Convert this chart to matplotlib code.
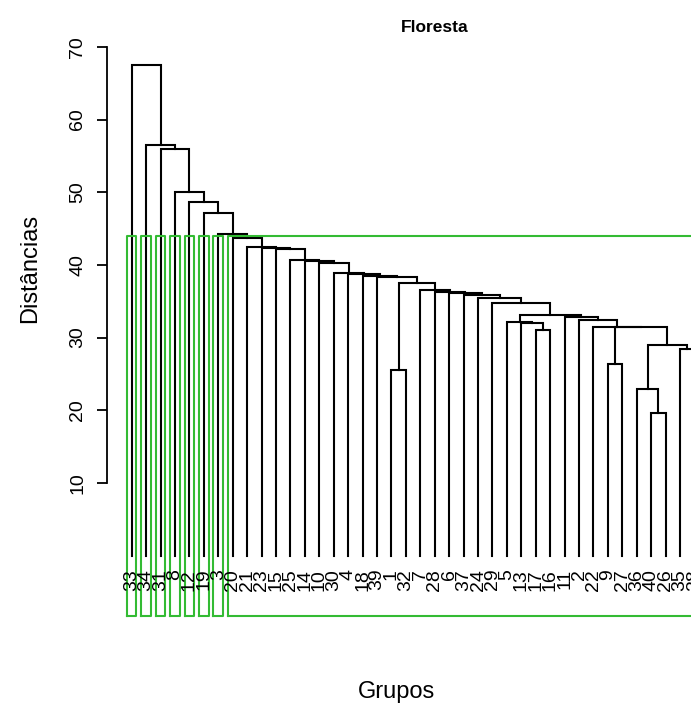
import numpy as np
import matplotlib
matplotlib.use("Agg")
import matplotlib.pyplot as plt

plt.rcParams['font.family'] = ['Liberation Sans', 'DejaVu Sans']

# leaf labels in the order they appear along the x axis
leaf_labels = ['33', '34', '31', '8', '12', '19', '3', '20', '21', '23', '15', '25', '14', '10',
               '30', '4', '18', '39', '1', '32', '7', '28', '6', '37', '24', '29', '5', '13',
               '17', '16', '11', '2', '22', '9', '27', '36', '40', '26', '35', '38']

# merges (R style): negative = leaf position, positive = earlier merge number
merge_left = [-37, -36, -19, -34, -39, 2, -29, 4, -33, -28, -27, -32, -31, 11, -26, -25, -24,
              -23, -22, -21, 3, -18, -17, -16, -15, -14, -13, -12, -11, -10, -9, -8, -7, -6,
              -5, -4, -3, -2, -1]
merge_right = [-38, 1, -20, -35, -40, 5, -30, 6, 8, 7, 10, 9, 12, 13, 14, 15, 16,
               17, 18, 19, 20, 21, 22, 23, 24, 25, 26, 27, 28, 29, 30, 31, 32, 33,
               34, 35, 36, 37, 38]
merge_height = [19.6, 22.9, 25.5, 26.3, 28.5, 29.0, 31.0, 31.4, 31.5, 32.0, 32.2, 32.4, 32.8,
                33.1, 34.8, 35.4, 35.9, 36.1, 36.3, 36.5, 37.5, 38.4, 38.5, 38.7, 38.9, 40.2,
                40.5, 40.7, 42.2, 42.3, 42.5, 43.65, 44.25, 47.1, 48.7, 50.0, 56.0, 56.5, 67.5]

k_groups = 8
ytick_vals = [10, 20, 30, 40, 50, 60, 70]

fig = plt.figure(figsize=(6.91, 7.11), dpi=100)
ax = fig.add_axes([107.2 / 691, 95 / 711, (691 - 107.2) / 691, 583.7 / 711])
ybottom = -8.3
ax.set_xlim(-0.7, 39.76)
ax.set_ylim(ybottom, 72)

lw = 1.5


def node_pos(ref, xs):
    # x position and height of a leaf or merge
    if ref < 0:
        return -ref, 0.0
    return xs[ref - 1], merge_height[ref - 1]


xs = []
for left, right, h in zip(merge_left, merge_right, merge_height):
    xl, hl = node_pos(left, xs)
    xr, hr = node_pos(right, xs)
    ax.plot([xl, xl, xr, xr], [hl, h, h, hr], color='black', lw=lw, clip_on=False,
            solid_joinstyle='miter')
    xs.append((xl + xr) / 2)

# leaf labels
for i, lab in enumerate(leaf_labels):
    ax.text(i + 1, -1.8, lab, rotation=90, ha='center', va='top', fontsize=14,
            clip_on=False)

# rect.hclust boxes
cut = np.mean(sorted(merge_height)[::-1][k_groups - 2:k_groups])
sizes = [1, 1, 1, 1, 1, 1, 1, len(leaf_labels) - 7]
m = np.concatenate([[0], np.cumsum(sizes)])
for n in range(k_groups):
    x0 = m[n] + 0.66
    x1 = m[n + 1] + 0.33
    ax.plot([x0, x0, x1, x1, x0], [ybottom, cut, cut, ybottom, ybottom], color='#33bb33',
            lw=lw, clip_on=False)

# y axis only, like R
for s in ['top', 'right', 'bottom']:
    ax.spines[s].set_visible(False)
ax.spines['left'].set_bounds(10, 70)
ax.spines['left'].set_linewidth(1.3)
ax.set_xticks([])
ax.set_yticks(ytick_vals)
ax.set_yticklabels([str(v) for v in ytick_vals], rotation=90, va='center', fontsize=14)
ax.tick_params(axis='y', length=7, width=1.3, pad=8)

fig.text(435 / 691, 1 - 27 / 711, 'Floresta', fontsize=12.5, weight='bold', ha='center',
         va='center')
fig.text(30 / 691, 1 - 268 / 711, 'Distâncias', fontsize=17, rotation=90, ha='center',
         va='center')
fig.text(397 / 691, 1 - 692 / 711, 'Grupos', fontsize=17, ha='center', va='center')

plt.savefig('out.png', dpi=100)
